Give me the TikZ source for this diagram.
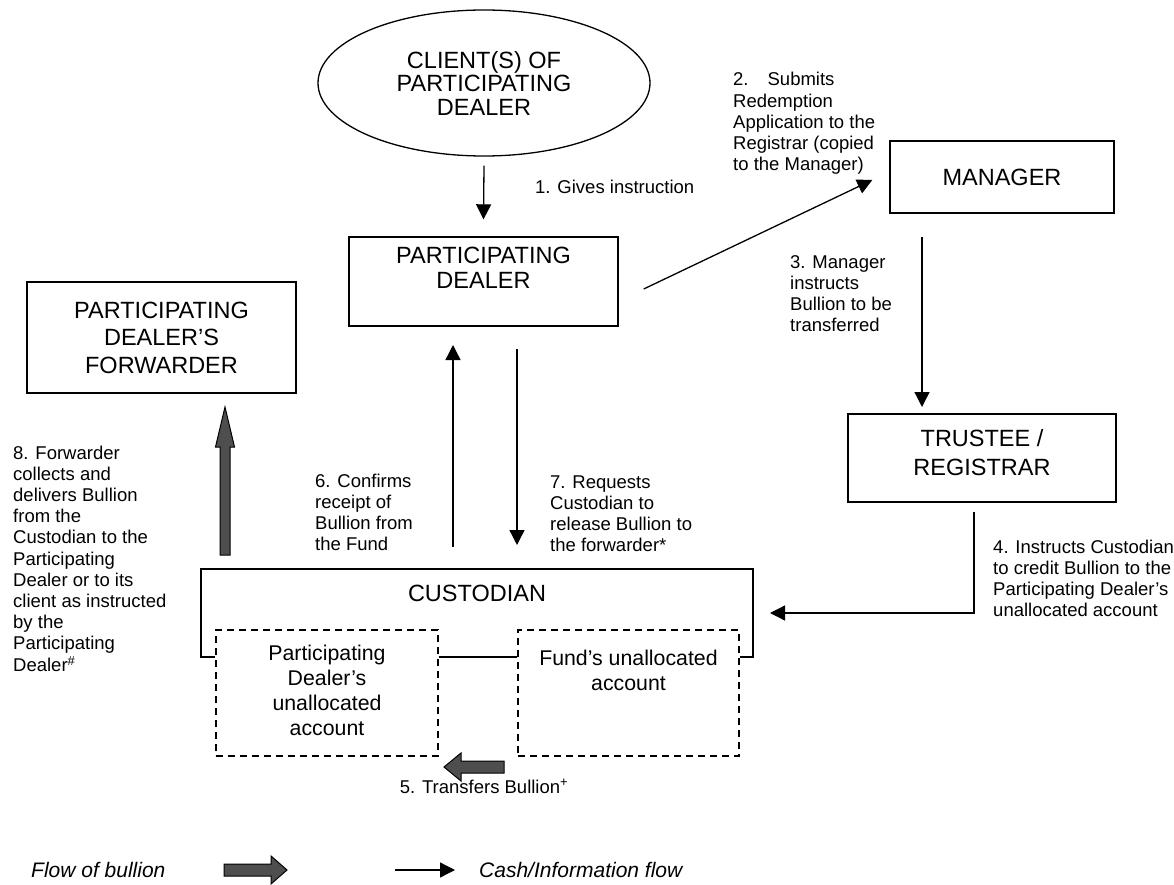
\documentclass[tikz,border=0pt]{standalone}
\usepackage{fontspec}
\setmainfont{Liberation Sans}
\usetikzlibrary{shapes.geometric,arrows.meta,calc}
\definecolor{bullgray}{RGB}{78,78,78}
\newcommand\mlns[1]{\begin{tabular}[t]{@{}l@{}}#1\end{tabular}}
\begin{document}
\begin{tikzpicture}[x=1pt,y=-1pt,
  box/.style={draw, line width=1.4pt, inner sep=0pt},
  big/.style={font=\fontsize{23.5}{25}\selectfont},
  med/.style={font=\fontsize{21.3}{25}\selectfont},
  lbl/.style={anchor=base west, inner sep=0pt, font=\fontsize{18.5}{21.2}\selectfont},
  legend/.style={anchor=base west, inner sep=0pt, font=\fontsize{21}{24}\selectfont\itshape},
  conn/.style={line width=1.3pt, -{Triangle[length=15pt,width=15pt]}},
  bull/.style={fill=bullgray, draw=black, line width=1pt, line join=miter},
  dashbox/.style={draw, line width=1.4pt, dash pattern=on 7pt off 5pt, inner sep=0pt}
]
\fill[white] (0,0) rectangle (1174,885);
\useasboundingbox (0,0) rectangle (1174,885);

% main shapes
\node[ellipse, draw, line width=1.3pt, minimum width=332pt, minimum height=146pt, inner sep=0pt,
      align=center, font=\fontsize{23.5}{23.5}\selectfont] (client) at (484,83) {CLIENT(S) OF\\PARTICIPATING\\DEALER};

\node[box, minimum width=269pt, minimum height=89pt] (pd) at (483.5,281.5) {};
\node[big, align=center, inner sep=0pt] (pdtext) at (483.5,268) {PARTICIPATING\\DEALER};

\node[box, minimum width=269pt, minimum height=111pt, align=center, font=\fontsize{23.5}{27.5}\selectfont] (fwd) at (161.5,337.5) {PARTICIPATING\\DEALER'S\\FORWARDER};

\node[box, minimum width=224pt, minimum height=72pt, big] (mgr) at (1002,177) {MANAGER};

\node[box, minimum width=268pt, minimum height=88pt] (trustee) at (982,458) {};
\node[align=center, inner sep=0pt, font=\fontsize{23.5}{28.5}\selectfont] (trtext) at (982,452.5) {TRUSTEE /\\REGISTRAR};

% custodian
\coordinate (cl) at (201,657);
\coordinate (cr) at (753,657);
\node[box, dashbox, minimum width=222pt, minimum height=126pt] (pdacc) at (327,693) {};
\node[box, dashbox, minimum width=221pt, minimum height=126pt] (fundacc) at (628.5,693) {};
\draw[line width=1.4pt] (pdacc.west |- cl) -- (cl) -- (201,569) -- (753,569) -- (cr) -- (fundacc.east |- cr);
\draw[line width=1.4pt] (pdacc.east |- cl) -- (fundacc.west |- cl);
\node[big, inner sep=0pt] (cust) at (477,593) {CUSTODIAN};
\node[med, align=center, inner sep=0pt] (pdacctext) at (327,690.5) {Participating\\Dealer's\\unallocated\\account};
\node[med, align=center, inner sep=0pt] (fundacctext) at (628.5,670) {Fund's unallocated\\account};

% information arrows
\draw[conn] ($(client.south)+(0,9)$) -- ($(pd.north)+(0,-17)$);
\draw[conn] ($(pd.east)+(25,7.5)$) -- ($(mgr.west)+(-17,3)$);
\coordinate (a3s) at (922,237);
\coordinate (a3e) at (922,407);
\draw[conn] (a3s) -- (a3e);
\coordinate (a4s) at (974,512);
\coordinate (a4c) at (974,613);
\coordinate (a4e) at (770,613);
\draw[conn] (a4s) -- (a4c) -- (a4e);
\coordinate (a6s) at (453,547);
\coordinate (a6e) at (453,345);
\draw[conn] (a6s) -- (a6e);
\coordinate (a7s) at (517,349);
\coordinate (a7e) at (517,545);
\draw[conn] (a7s) -- (a7e);

% bullion arrows
\draw[bull] (220,555) -- (220,447) -- (215.5,447) -- (225,407) -- (234.5,447) -- (230,447) -- (230,555) -- cycle;
\draw[bull] (504,761) -- (461,761) -- (461,753) -- (444,767) -- (461,781) -- (461,773) -- (504,773) -- cycle;

% labels
\node[lbl] (l1) at (535,194) {1. Gives instruction};
\node[lbl] (l2) at (733,86) {\mlns{2.\hspace{19pt}Submits\\Redemption\\Application to the\\Registrar (copied\\to the Manager)}};
\node[lbl] (l3) at (790,268) {\mlns{3. Manager\\instructs\\Bullion to be\\transferred}};
\node[lbl] (l4) at (993,553) {\mlns{4. Instructs Custodian\\to credit Bullion to the\\Participating Dealer's\\unallocated account}};
\node[lbl, anchor=base] (l5) at (484,793) {5. Transfers Bullion\textsuperscript{+}};
\node[lbl] (l6) at (315,487) {\mlns{6. Confirms\\receipt of\\Bullion from\\the Fund}};
\node[lbl] (l7) at (550,488) {\mlns{7. Requests\\Custodian to\\release Bullion to\\the forwarder*}};
\node[lbl] (l8) at (13,459) {\mlns{8. Forwarder\\collects and\\delivers Bullion\\from the\\Custodian to the\\Participating\\Dealer or to its\\client as instructed\\by the\\Participating\\Dealer\textsuperscript{\#}}};

% legend
\node[legend] (lg1) at (31,877) {Flow of bullion};
\draw[bull] (224,864) -- (271,864) -- (271,856) -- (287,870) -- (271,884) -- (271,876) -- (224,876) -- cycle;
\coordinate (lgs) at (395,870);
\coordinate (lge) at (455,870);
\draw[conn] (lgs) -- (lge);
\node[legend] (lg2) at (479,877) {Cash/Information flow};
\end{tikzpicture}
\end{document}
